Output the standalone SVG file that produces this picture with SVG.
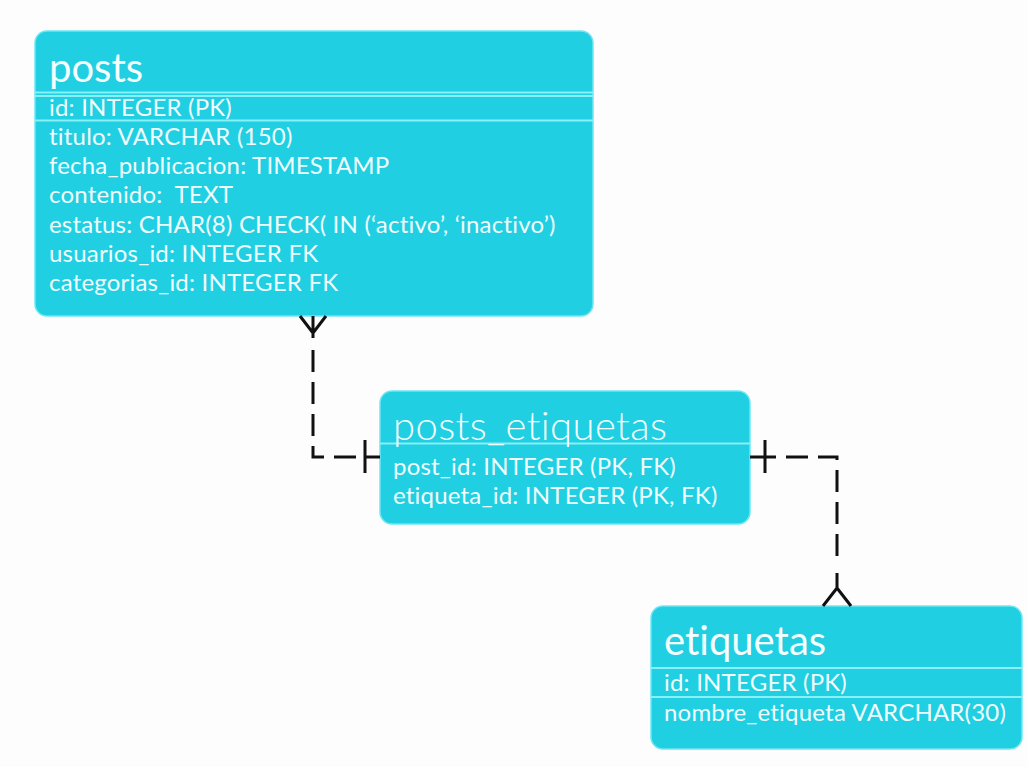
<svg xmlns="http://www.w3.org/2000/svg" width="1028" height="767" viewBox="0 0 1028 767">
<style>
.box{fill:#20cfe2;stroke:#6fe6f2;stroke-width:1.5}
.title{font-family:Lato,"Open Sans",sans-serif;fill:#f4ffff;font-size:40px;font-variant-ligatures:none}
.attr{font-family:Lato,"Open Sans",sans-serif;fill:#f0fdff;font-size:24px;letter-spacing:0.2px;font-variant-ligatures:none;white-space:pre}
.sep{stroke:#8af0f7;stroke-width:2}
.conn{fill:none;stroke:#111;stroke-width:3}
.dash{stroke-dasharray:22 10}
</style>
<rect width="1028" height="767" fill="#fdfdfd"/>
<g id="posts">
<rect class="box" x="35" y="31" width="558" height="285" rx="12"/>
<text class="title" x="49" y="82">posts</text>
<line class="sep" x1="35" y1="92.5" x2="593" y2="92.5"/>
<line class="sep" x1="35" y1="96" x2="593" y2="96"/>
<text class="attr" x="49" y="116">id: INTEGER (PK)</text>
<line class="sep" x1="35" y1="120.5" x2="593" y2="120.5"/>
<text class="attr" x="49" y="145">titulo: VARCHAR (150)</text>
<text class="attr" x="49" y="174">fecha_publicacion: TIMESTAMP</text>
<text class="attr" x="49" y="203" xml:space="preserve">contenido:  TEXT</text>
<text class="attr" x="49" y="233">estatus: CHAR(8) CHECK( IN (‘activo’, ‘inactivo’)</text>
<text class="attr" x="49" y="262">usuarios_id: INTEGER FK</text>
<text class="attr" x="49" y="291">categorias_id: INTEGER FK</text>
</g>
<g id="posts_etiquetas">
<rect class="box" x="380" y="391" width="370" height="133" rx="12"/>
<line class="sep" x1="380" y1="443.5" x2="750" y2="443.5"/>
<text class="title" x="393" y="440" style="font-weight:300;letter-spacing:0.4px">posts_etiquetas</text>
<text class="attr" x="393" y="475">post_id: INTEGER (PK, FK)</text>
<text class="attr" x="393" y="504">etiqueta_id: INTEGER (PK, FK)</text>
</g>
<g id="etiquetas">
<rect class="box" x="651" y="606" width="371" height="143" rx="12"/>
<text class="title" x="664" y="655">etiquetas</text>
<line class="sep" x1="651" y1="668" x2="1022" y2="668"/>
<text class="attr" x="664" y="691">id: INTEGER (PK)</text>
<line class="sep" x1="651" y1="697" x2="1022" y2="697"/>
<text class="attr" x="664" y="721">nombre_etiqueta VARCHAR(30)</text>
</g>
<g id="connectors">
<path class="conn" d="M300 316 L313 333 L326 316 M313 316 V338"/>
<path class="conn dash" d="M313 350 V457 H362"/>
<path class="conn" d="M365 440 V473 M365 457 H380"/>
<path class="conn" d="M750 457 H776 M765 440 V473"/>
<path class="conn dash" d="M786 457 H837 V565"/>
<path class="conn" d="M837 573 V588 M823 606 L837 588 L851 606"/>
</g>
</svg>
